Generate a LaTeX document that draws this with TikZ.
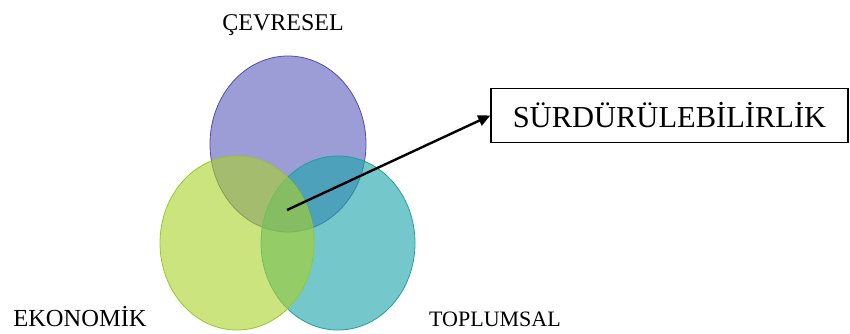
\documentclass[tikz,border=0pt]{standalone}
\usepackage{fontspec}
\setmainfont{Liberation Serif}
\usetikzlibrary{arrows.meta}
\definecolor{cevreFill}{RGB}{95,95,190}
\definecolor{cevreLine}{RGB}{80,80,165}
\definecolor{ekoFill}{RGB}{170,210,40}
\definecolor{ekoLine}{RGB}{150,200,40}
\definecolor{topFill}{RGB}{30,165,170}
\definecolor{topLine}{RGB}{30,160,160}
\tikzset{
  label/.style={font=\fontsize{22}{26}\selectfont, inner sep=0pt, anchor=base},
  titlebox/.style={draw, line width=1.6pt, minimum width=357pt, minimum height=54pt,
    font=\fontsize{30.5}{34}\selectfont, inner sep=0pt}
}
\begin{document}
\begin{tikzpicture}[x=1pt,y=-1pt]
  \useasboundingbox (0,0) rectangle (850,333);
  % three overlapping areas of sustainability
  \fill[cevreFill, fill opacity=0.62] (288,144) ellipse [x radius=78, y radius=88];
  \draw[cevreLine, line width=0.8pt] (288,144) ellipse [x radius=78, y radius=88];
  \fill[topFill, fill opacity=0.62] (338,243) ellipse [x radius=77, y radius=87];
  \draw[topLine, line width=0.8pt] (338,243) ellipse [x radius=77, y radius=87];
  \fill[ekoFill, fill opacity=0.6] (237,243) ellipse [x radius=77, y radius=87];
  \draw[ekoLine, line width=0.8pt] (237,243) ellipse [x radius=77, y radius=87];

  % labels of the areas
  \node[label, font=\fontsize{24}{28}\selectfont] (cevre) at (283,30) {ÇEVRESEL};
  \node[label, font=\fontsize{24.5}{28}\selectfont] (eko) at (80,326) {EKONOMİK};
  \node[label] (top) at (495,326) {TOPLUMSAL};

  % the common centre and the title box
  \coordinate (core) at (287,210);
  \node[titlebox] (sur) at (669.5,115.5) {SÜRDÜRÜLEBİLİRLİK};
  \draw[line width=2.4pt, -{Triangle[length=12pt, width=11pt]}] (core) -- (sur.west);
\end{tikzpicture}
\end{document}
